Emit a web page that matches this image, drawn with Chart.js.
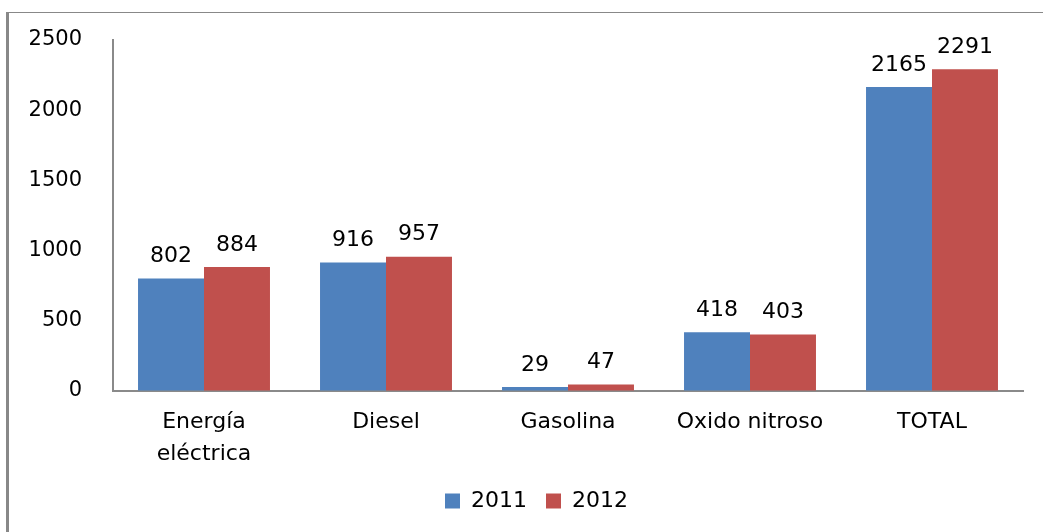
<!DOCTYPE html>
<html>
<head>
<meta charset="utf-8">
<script src="https://cdn.jsdelivr.net/npm/chart.js@4/dist/chart.umd.min.js"></script>
<style>
  body { margin: 0; background: #fff; }
  #wrap { position: absolute; left: 0; top: 0; width: 1043px; height: 532px; }
  #frame { position: absolute; left: 6px; top: 12px; width: 1037px; height: 520px;
           border-left: 3px solid #888; border-top: 1px solid #888; box-sizing: border-box; }
  canvas { position: absolute; left: 0; top: 0; }
</style>
</head>
<body>
<div id="wrap">
  <div id="frame"></div>
  <canvas id="myChart" width="1043" height="532"></canvas>
</div>
<script>
var categories = [['Energía', 'eléctrica'], 'Diesel', 'Gasolina', 'Oxido nitroso', 'TOTAL'];
var values2011 = [802, 916, 29, 418, 2165];
var values2012 = [884, 957, 47, 403, 2291];
var yTicks = [0, 500, 1000, 1500, 2000, 2500];

var fontName = "'DejaVu Sans', sans-serif";

// numbers over each bar
var barLabels = {
    id: 'barLabels',
    afterDatasetsDraw: function(chart) {
        var ctx = chart.ctx;
        ctx.save();
        ctx.font = '22px ' + fontName;
        ctx.fillStyle = '#000';
        ctx.textAlign = 'center';
        ctx.textBaseline = 'bottom';
        chart.data.datasets.forEach(function(ds, i) {
            var meta = chart.getDatasetMeta(i);
            meta.data.forEach(function(bar, j) {
                ctx.fillText(String(ds.data[j]), bar.x, bar.y - 11);
            });
        });
        ctx.restore();
    }
};

// legend sits a bit right of centre in the original
var legendShift = {
    id: 'legendShift',
    afterLayout: function(chart) {
        chart.legend.left += 25;
        chart.legend.right += 25;
    }
};

function input() {
    var ctx = document.getElementById('myChart').getContext('2d');
    var chart = new Chart(ctx, {
        type: 'bar',
        data: {
            labels: categories,
            datasets: [{
                label: '2011',
                data: values2011,
                backgroundColor: '#4F81BD'
            }, {
                label: '2012',
                data: values2012,
                backgroundColor: '#C0504D'
            }]
        },
        options: {
            responsive: false,
            animation: false,
            events: [],
            layout: { padding: { left: 0, right: 20, top: 40, bottom: 10 } },
            datasets: {
                bar: { categoryPercentage: 0.725, barPercentage: 1.0 }
            },
            scales: {
                x: {
                    grid: { display: false, drawTicks: false },
                    border: { display: true, color: '#8a8a8a', width: 2 },
                    ticks: {
                        color: '#000',
                        padding: 15,
                        maxRotation: 0,
                        autoSkip: false,
                        font: { family: fontName, size: 22, lineHeight: 1.45 }
                    },
                    afterFit: function(scale) { scale.height = 80; }
                },
                y: {
                    min: 0,
                    max: 2500,
                    afterBuildTicks: function(scale) {
                        scale.ticks = yTicks.map(function(v) { return { value: v }; });
                    },
                    // invisible tick marks keep the gap between numbers and axis
                    grid: { display: true, drawOnChartArea: false, drawTicks: true,
                            tickLength: 28, tickColor: 'rgba(0,0,0,0)' },
                    border: { display: true, color: '#8a8a8a', width: 2 },
                    ticks: {
                        color: '#000',
                        padding: 3,
                        font: { family: fontName, size: 21 },
                        callback: function(v) { return String(v); }
                    },
                    afterFit: function(scale) { scale.width = 113; }
                }
            },
            plugins: {
                legend: {
                    position: 'bottom',
                    labels: {
                        color: '#000',
                        boxWidth: 15,
                        boxHeight: 15,
                        padding: 19,
                        font: { family: fontName, size: 22 }
                    }
                },
                tooltip: { enabled: false }
            }
        },
        plugins: [barLabels, legendShift]
    });
}
input();
</script>
</body>
</html>
